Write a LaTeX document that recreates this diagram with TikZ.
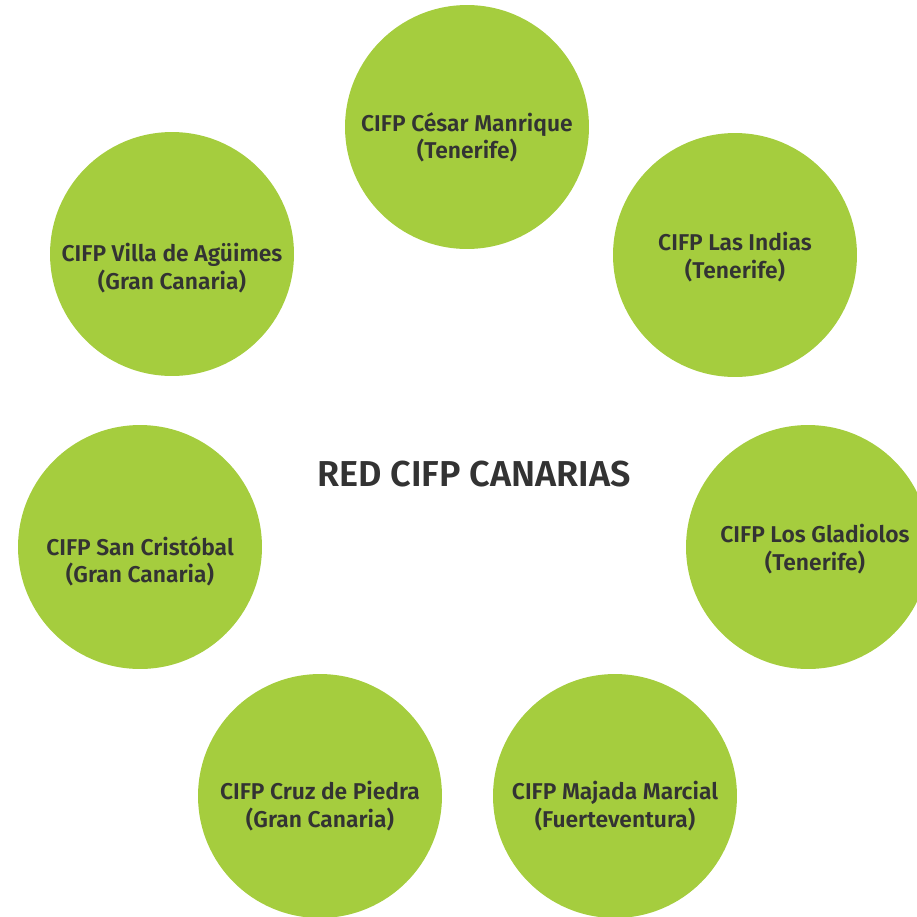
\documentclass[tikz,border=0pt]{standalone}
\usepackage{fontspec}
\setmainfont{Fira Sans}[BoldFont={Fira Sans SemiBold}]
\definecolor{cifpgreen}{HTML}{A5CD3E}
\definecolor{cifptext}{HTML}{333333}
\begin{document}
\begin{tikzpicture}[
    x=0.02cm, y=-0.02cm,
    school/.style={circle, fill=cifpgreen, minimum size=4.88cm, inner sep=0pt},
    schoolname/.style={align=center, inner sep=0pt, text=cifptext,
        font=\fontsize{13}{15.5}\selectfont\bfseries},
    centre/.style={align=center, text=cifptext, font=\fontsize{20.5}{24}\selectfont\bfseries}
]
\useasboundingbox (0,0) rectangle (917,917);
\clip (0,0) rectangle (917,917);

% circles
\node[school] (cesar) at (467,127) {};
\node[school] (indias) at (735,255) {};
\node[school] (gladiolos) at (808,547) {};
\node[school] (majada) at (615,796) {};
\node[school] (cruz) at (320,796) {};
\node[school] (cristobal) at (140,547) {};
\node[school] (aguimes) at (172,254) {};

% names
\node[schoolname] (cesar-t) at ([yshift=-0.2cm]cesar) {CIFP César Manrique\\(Tenerife)};
\node[schoolname] (indias-t) at ([yshift=-0.04cm]indias) {CIFP Las Indias\\(Tenerife)};
\node[schoolname] (gladiolos-t) at ([xshift=0.14cm,yshift=-0.04cm]gladiolos) {CIFP Los Gladiolos\\(Tenerife)};
\node[schoolname] (majada-t) at ([yshift=-0.2cm]majada) {CIFP Majada Marcial\\(Fuerteventura)};
\node[schoolname] (cruz-t) at ([yshift=-0.2cm]cruz) {CIFP Cruz de Piedra\\(Gran Canaria)};
\node[schoolname] (cristobal-t) at ([yshift=-0.28cm]cristobal) {CIFP San Cristóbal\\(Gran Canaria)};
\node[schoolname] (aguimes-t) at ([yshift=-0.28cm]aguimes) {CIFP Villa de Agüimes\\(Gran Canaria)};

\node[centre] (red) at (474,474) {RED CIFP CANARIAS};
\end{tikzpicture}
\end{document}
